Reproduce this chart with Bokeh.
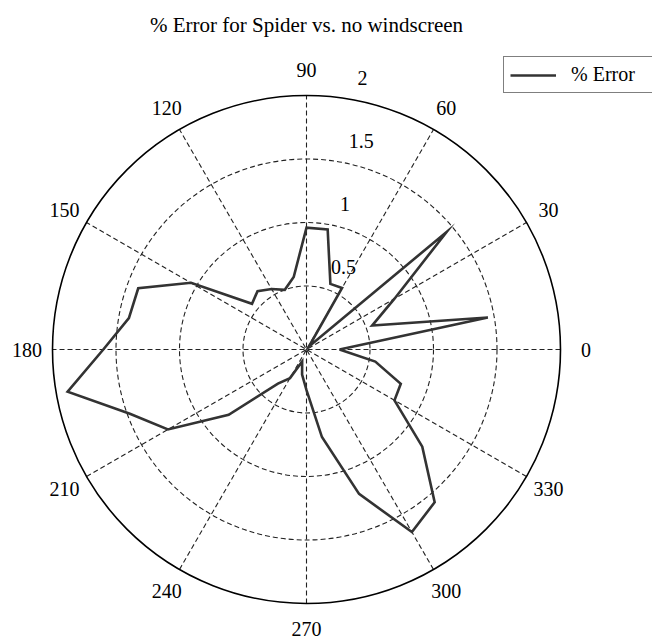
import numpy as np
from bokeh.plotting import figure
from bokeh.models import Range1d, Legend, LegendItem, ColumnDataSource
from bokeh.core.properties import value
from bokeh.embed import file_html
from bokeh.resources import INLINE

# ---------------- data ----------------
title_text = "% Error for Spider vs. no windscreen"
series_name = "% Error"
angles_deg = [0, 10, 20, 30, 40, 50, 60, 70, 80, 90, 100, 110,
              120, 130, 140, 150, 160, 170, 180, 190, 200, 210, 220, 230,
              240, 250, 260, 270, 280, 290, 300, 310, 320, 330, 340, 350]
error_pct = [0.26, 1.45, 0.55, 0.80, 1.44, 0.03, 0.56, 0.55, 0.96, 0.96, 0.58, 0.50,
             0.55, 0.60, 0.56, 1.05, 1.41, 1.42, 1.60, 1.91, 1.48, 1.26, 0.80, 0.35,
             0.26, 0.10, 0.20, 0.32, 0.70, 1.21, 1.66, 1.57, 1.19, 0.80, 0.79, 0.55]
ring_values = [0.5, 1.0, 1.5, 2.0]
ring_labels = ["0.5", "1", "1.5", "2"]
spoke_angles = [30, 60, 90, 120, 150, 180]
angle_ticks = [0, 30, 60, 90, 120, 150, 180, 210, 240, 270, 300, 330]
angle_tick_labels = ["0", "30", "60", "90", "120", "150", "180", "210", "240", "270", "300", "330"]

# ---------------- layout ----------------
W, H = 652, 641
PX = 127.0             # pixels per data unit
CX, CY = 306.0, 349.0  # centre in figure pixels (from top-left)
rmax = max(ring_values)

p = figure(width=W, height=H, output_backend="svg", toolbar_location=None,
           x_axis_location=None, y_axis_location=None, min_border=0,
           x_range=Range1d(-CX / PX, (W - CX) / PX),
           y_range=Range1d(-(H - CY) / PX, CY / PX))
p.outline_line_color = None
p.background_fill_color = "white"
p.border_fill_color = "white"
p.grid.visible = False

FONT = value("Liberation Serif")
GRID_COL = "#222222"

# dashed inner rings
inner = [r for r in ring_values if r < rmax]
p.circle(x=[0] * len(inner), y=[0] * len(inner), radius=inner, radius_units="data",
         fill_color=None, line_color=GRID_COL, line_width=1.1, line_dash="5 3")

# spokes (full diameters)
th = np.deg2rad(spoke_angles)
p.segment(x0=-rmax * np.cos(th), y0=-rmax * np.sin(th),
          x1=rmax * np.cos(th), y1=rmax * np.sin(th),
          line_color=GRID_COL, line_width=1.1, line_dash="5 3")

# outer solid circle
p.circle(x=[0], y=[0], radius=[rmax], radius_units="data", fill_color=None,
         line_color="black", line_width=1.6)

# angle labels
ta = np.deg2rad(angle_ticks)
p.text(x=1.1 * rmax * np.cos(ta), y=1.1 * rmax * np.sin(ta), text=angle_tick_labels,
       text_font=FONT, text_font_size="20px", text_color="black",
       text_align="center", text_baseline="middle")

# ring labels at 82 degrees
a82 = np.deg2rad(82)
rr = np.array(ring_values) + 0.05 * rmax
p.text(x=rr * np.cos(a82), y=rr * np.sin(a82), text=ring_labels,
       text_font=FONT, text_font_size="20px", text_color="black",
       text_align="left", text_baseline="bottom", x_offset=14)

# data trace
ang = np.deg2rad(angles_deg + [angles_deg[0]])
rv = np.array(error_pct + [error_pct[0]])
src = ColumnDataSource(dict(x=rv * np.cos(ang), y=rv * np.sin(ang)))
trace = p.line("x", "y", source=src, line_color="#333333", line_width=2.6,
               line_join="miter")

# title
p.text(x=[0.0], y=[(CY - 24) / PX], text=[title_text],
       text_font=FONT, text_font_size="21px", text_color="black",
       text_align="center", text_baseline="alphabetic")

# legend
legend = Legend(items=[LegendItem(label=series_name, renderers=[trace])],
                location=(503, H - 93), orientation="vertical",
                border_line_color="black", border_line_width=1.2,
                background_fill_color="white", background_fill_alpha=1.0,
                padding=6, margin=0, spacing=0,
                glyph_width=46, glyph_height=20, label_standoff=15,
                label_width=140, label_height=20,
                label_text_font="Liberation Serif", label_text_font_size="20px",
                label_text_color="black")
p.add_layout(legend)

open("out.html", "w").write(file_html(p, INLINE))
